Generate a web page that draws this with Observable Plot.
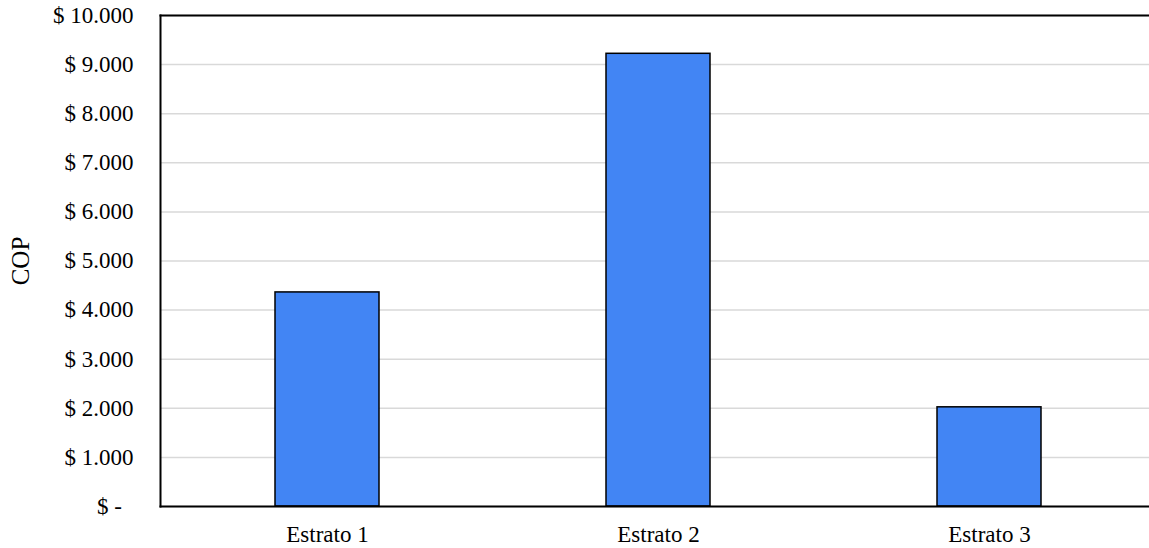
<!DOCTYPE html>
<html>
<head>
<meta charset="utf-8">
<script src="https://cdn.jsdelivr.net/npm/d3@7"></script>
<script src="https://cdn.jsdelivr.net/npm/@observablehq/plot@0.6"></script>
<style>
  html, body { margin: 0; padding: 0; background: #fff; overflow: hidden; }
  #chart svg { display: block; }
</style>
</head>
<body>
<div id="chart"></div>
<script>
// Average cost per stratum (COP)
const categories = ["Estrato 1", "Estrato 2", "Estrato 3"];
const values = [4360, 9220, 2020];
const yTicks = [0, 1000, 2000, 3000, 4000, 5000, 6000, 7000, 8000, 9000, 10000];
const yTitle = ["COP"];

const data = categories.map((c, i) => ({estrato: c, cop: values[i]}));

// Accounting-style peso label: "$ 4.000", zero shown as "$ -"
const pesoFmt = d => d === 0
  ? "$ -\u2002"
  : "$ " + d3.format(",")(d).replace(/,/g, ".");

const W = 1149, H = 548;
const mLeft = 160, mTop = 15, mBottom = 42;
const fs = 23;

const chart = Plot.plot({
  width: W,
  height: H,
  marginLeft: mLeft,
  marginRight: 0,
  marginTop: mTop,
  marginBottom: mBottom,
  style: {
    fontFamily: '"Times New Roman", "Liberation Serif", serif',
    fontSize: fs + "px",
    color: "#000",
    background: "#fff"
  },
  x: {
    domain: categories,
    range: [mLeft, 1155],
    paddingInner: 0.686,
    paddingOuter: 0.343
  },
  y: {
    domain: [0, 10000]
  },
  marks: [
    Plot.gridY(yTicks, {stroke: "#d9d9d9", strokeOpacity: 1, strokeWidth: 1.5}),
    Plot.barY(data, {x: "estrato", y: "cop", fill: "#4285F4", stroke: "#000", strokeWidth: 1.5}),
    Plot.frame({anchor: "left", stroke: "#000", strokeWidth: 2}),
    Plot.frame({anchor: "top", stroke: "#000", strokeWidth: 2}),
    Plot.frame({anchor: "bottom", stroke: "#000", strokeWidth: 2}),
    Plot.axisY(yTicks, {
      tickSize: 0,
      tickPadding: 27,
      tickFormat: pesoFmt,
      fontSize: fs,
      label: null
    }),
    Plot.axisX({
      tickSize: 0,
      tickPadding: 19,
      fontSize: fs,
      label: null
    }),
    // rotated axis title, centred on the plot area
    Plot.text(yTitle, {
      frameAnchor: "left",
      textAnchor: "middle",
      rotate: -90,
      dx: -140,
      fontSize: 25,
      fill: "#000"
    })
  ]
});

document.getElementById("chart").appendChild(chart);
</script>
</body>
</html>
